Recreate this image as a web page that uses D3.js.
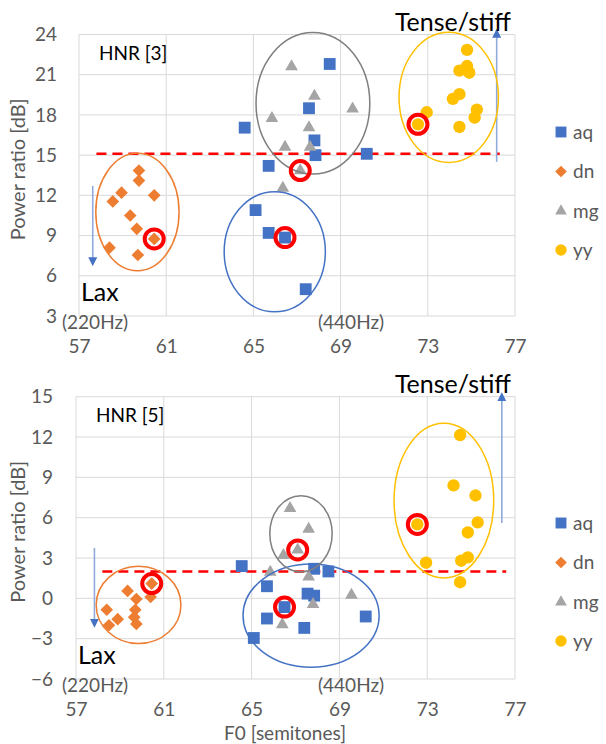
<!DOCTYPE html>
<html>
<head>
<meta charset="utf-8">
<script src="https://cdn.jsdelivr.net/npm/d3@7"></script>
<style>
  body { margin: 0; background: #fff; }
  text { font-family: Lato, "Open Sans", sans-serif; }
</style>
</head>
<body>
<svg id="chart" width="606" height="744"></svg>
<script>
// ---- values ----
var f0Ticks = [57, 61, 65, 69, 73, 77];
var hnr3Ticks = [3, 6, 9, 12, 15, 18, 21, 24];
var hnr5Ticks = [-6, -3, 0, 3, 6, 9, 12, 15];
var seriesNames = ["aq", "dn", "mg", "yy"];

// HNR [3]  (F0 semitones, dB)
var hnr3_aq = [[64.6, 17.05], [68.5, 21.8], [67.55, 18.5], [67.8, 16.1], [67.85, 15.0], [70.2, 15.1],
               [65.7, 14.2], [65.1, 10.9], [65.7, 9.2], [66.45, 8.85], [67.4, 5.0]];
var hnr3_dn = [[59.75, 13.85], [59.75, 13.1], [58.95, 12.2], [58.55, 11.55], [60.45, 12.0],
               [59.35, 10.5], [59.65, 9.5], [60.45, 8.75], [58.4, 8.1], [59.7, 7.55]];
var hnr3_mg = [[66.75, 21.6], [67.8, 19.4], [69.55, 18.45], [65.85, 17.75], [67.55, 17.05],
               [66.45, 15.6], [67.6, 15.6], [67.15, 13.85], [66.35, 12.55]];
var hnr3_yy = [[74.8, 22.85], [74.8, 21.65], [74.45, 21.3], [74.9, 21.15], [74.45, 19.55], [74.15, 19.2],
               [75.25, 18.4], [75.15, 17.8], [72.95, 18.2], [72.55, 17.3], [74.45, 17.1]];
// index of the circled point in each series (aq, dn, mg, yy)
var hnr3Marked = [9, 7, 7, 9];
// rings round each group: [cx, cy, rx, ry] in data units (aq, dn, mg, yy)
var hnr3Rings = [[65.98, 7.79, 2.32, 4.48], [59.68, 10.76, 1.91, 4.38],
                 [67.73, 18.87, 2.61, 5.28], [73.96, 19.31, 2.28, 4.85]];
var hnr3Level = 15.1;
var hnr3LaxArrow = [57.63, 12.7, 7.05];
var hnr3TenseArrow = [76.16, 14.5, 24.1];

// HNR [5]
var hnr5_aq = [[64.55, 2.4], [67.85, 2.2], [68.5, 2.0], [65.7, 0.9], [67.55, 0.35], [67.85, 0.2],
               [66.5, -0.65], [65.7, -1.5], [67.4, -2.2], [70.2, -1.35], [65.1, -2.95]];
var hnr5_dn = [[60.45, 1.1], [60.4, 0.1], [59.35, 0.55], [59.75, -0.05], [59.7, -0.85],
               [58.4, -0.85], [58.9, -1.55], [59.65, -1.4], [58.5, -2.0], [59.75, -1.9]];
var hnr5_mg = [[66.75, 6.7], [67.6, 5.15], [67.1, 3.6], [66.45, 3.2], [65.85, 1.95],
               [67.6, 1.6], [69.55, 0.25], [67.8, -0.45], [66.4, -1.95]];
var hnr5_yy = [[74.5, 12.15], [74.2, 8.4], [75.2, 7.65], [75.3, 5.65], [74.85, 4.9],
               [72.55, 5.5], [72.95, 2.65], [74.85, 3.05], [74.55, 2.8], [74.5, 1.2]];
var hnr5Marked = [6, 0, 2, 5];
var hnr5Rings = [[67.71, -1.28, 3.1, 3.84], [59.85, -0.49, 1.93, 2.87],
                 [67.25, 4.8, 1.42, 2.84], [73.76, 7.27, 2.27, 5.75]];
var hnr5Level = 2.0;
var hnr5LaxArrow = [57.84, 3.75, -1.85];
var hnr5TenseArrow = [76.4, 5.6, 15.0];

var colors = ["#4472c4", "#ed7d31", "#a5a5a5", "#ffc000"];
var ringColors = ["#4472c4", "#ed7d31", "#7f7f7f", "#ffc000"];
var symbols = [d3.symbolSquare, d3.symbolSquare, d3.symbolTriangle, d3.symbolCircle];
var symbolSizes = [140, 80, 70, 120];
var symbolRotate = [0, 45, 0, 0];

var svg = d3.select("#chart");
var defs = svg.append("defs");
defs.append("marker")
    .attr("id", "arrowhead")
    .attr("viewBox", "0 0 10 10")
    .attr("refX", 5).attr("refY", 5)
    .attr("markerWidth", 9).attr("markerHeight", 11)
    .attr("markerUnits", "userSpaceOnUse")
    .attr("orient", "auto")
    .append("path")
    .attr("d", "M0,0 L10,5 L0,10 Z")
    .attr("fill", "#4472c4");

function drawPanel(opt) {
    var x = d3.scaleLinear().domain([57, 77]).range(opt.xRange);
    var y = d3.scaleLinear().domain(d3.extent(opt.yTicks)).range(opt.yRange);
    var g = svg.append("g");

    // grid
    g.selectAll(".hgrid").data(opt.yTicks).enter().append("line")
        .attr("x1", x.range()[0]).attr("x2", x.range()[1])
        .attr("y1", function (d) { return y(d); }).attr("y2", function (d) { return y(d); })
        .attr("stroke", "#d9d9d9").attr("stroke-width", 1);
    g.selectAll(".vgrid").data(f0Ticks).enter().append("line")
        .attr("x1", function (d) { return x(d); }).attr("x2", function (d) { return x(d); })
        .attr("y1", y.range()[0]).attr("y2", y.range()[1])
        .attr("stroke", "#d9d9d9").attr("stroke-width", 1);

    // axes (labels only)
    var yAxis = d3.axisLeft(y).tickValues(opt.yTicks).tickSize(0).tickPadding(opt.yPad);
    var ya = g.append("g").attr("transform", "translate(" + x.range()[0] + ",0)").call(yAxis);
    var xAxis = d3.axisBottom(x).tickValues(f0Ticks).tickSize(0).tickPadding(24);
    var xa = g.append("g").attr("transform", "translate(0," + y.range()[0] + ")").call(xAxis);
    [ya, xa].forEach(function (a) {
        a.select(".domain").remove();
        a.selectAll("text").attr("fill", "#595959").style("font-size", "19px")
            .style("font-family", "Lato, 'Open Sans', sans-serif");
    });

    // threshold line
    g.append("line")
        .attr("x1", x(opt.levelFrom)).attr("x2", x(opt.levelTo))
        .attr("y1", y(opt.level)).attr("y2", y(opt.level))
        .attr("stroke", "#ff0000").attr("stroke-width", 2.5)
        .attr("stroke-dasharray", "10,6");

    // direction arrows
    [opt.laxArrow, opt.tenseArrow].forEach(function (a) {
        g.append("line")
            .attr("x1", x(a[0])).attr("x2", x(a[0]))
            .attr("y1", y(a[1])).attr("y2", y(a[2]))
            .attr("stroke", "#8faadc").attr("stroke-width", 1.6)
            .attr("marker-end", "url(#arrowhead)");
    });

    // points
    opt.series.forEach(function (data, si) {
        var sym = d3.symbol().type(symbols[si]).size(symbolSizes[si]);
        g.selectAll(".pt" + si).data(data).enter().append("path")
            .attr("d", sym)
            .attr("transform", function (d) {
                return "translate(" + x(d[0]) + "," + y(d[1]) + ") rotate(" + symbolRotate[si] + ")";
            })
            .attr("fill", colors[si]);
    });

    // group rings
    opt.rings.forEach(function (r, si) {
        g.append("ellipse")
            .attr("cx", x(r[0])).attr("cy", y(r[1]))
            .attr("rx", x(r[0] + r[2]) - x(r[0]))
            .attr("ry", y(r[1]) - y(r[1] + r[3]))
            .attr("fill", "none").attr("stroke", ringColors[si]).attr("stroke-width", 1.5);
    });

    // marked points
    opt.marked.forEach(function (idx, si) {
        var d = opt.series[si][idx];
        g.append("circle")
            .attr("cx", x(d[0])).attr("cy", y(d[1])).attr("r", 9.5)
            .attr("fill", "none").attr("stroke", "#ff0000").attr("stroke-width", 4);
    });

    // texts in the plot
    g.append("text").attr("x", x.range()[0] + 20).attr("y", y.range()[1] + 25.5)
        .style("font-size", "19px").attr("fill", "#000").text(opt.title);
    g.append("text").attr("x", x.range()[1] - 4).attr("y", y.range()[1] - 4)
        .attr("text-anchor", "end").style("font-size", "25px").attr("fill", "#000").text("Tense/stiff");
    g.append("text").attr("x", x.range()[0] + 2).attr("y", y.range()[0] - 15)
        .style("font-size", "25px").attr("fill", "#000").text("Lax");
    g.append("text").attr("x", 62).attr("y", y.range()[0] + 13)
        .style("font-size", "19px").attr("fill", "#595959").text("(220Hz)");
    g.append("text").attr("x", 318).attr("y", y.range()[0] + 13)
        .style("font-size", "19px").attr("fill", "#595959").text("(440Hz)");

    // y title
    var ym = (y.range()[0] + y.range()[1]) / 2 - 6;
    g.append("text")
        .attr("transform", "translate(25," + ym + ") rotate(-90)")
        .attr("text-anchor", "middle").style("font-size", "20px").attr("fill", "#595959")
        .text("Power ratio [dB]");

    // legend
    seriesNames.forEach(function (name, si) {
        var ly = opt.legendY[si];
        var sym = d3.symbol().type(symbols[si]).size(symbolSizes[si] * 0.85);
        g.append("path").attr("d", sym)
            .attr("transform", "translate(561," + ly + ") rotate(" + symbolRotate[si] + ")")
            .attr("fill", colors[si]);
        g.append("text").attr("x", 573).attr("y", ly).attr("dy", "0.35em")
            .style("font-size", "19px").attr("fill", "#595959").text(name);
    });
}

drawPanel({
    title: "HNR [3]",
    xRange: [79, 515], yRange: [316, 34.5], yTicks: hnr3Ticks, yPad: 22,
    series: [hnr3_aq, hnr3_dn, hnr3_mg, hnr3_yy],
    marked: hnr3Marked, rings: hnr3Rings,
    level: hnr3Level, levelFrom: 57.8, levelTo: 76.3,
    laxArrow: hnr3LaxArrow, tenseArrow: hnr3TenseArrow,
    legendY: [132, 171.5, 211, 250]
});
drawPanel({
    title: "HNR [5]",
    xRange: [76, 515], yRange: [679, 396.7], yTicks: hnr5Ticks, yPad: 23,
    series: [hnr5_aq, hnr5_dn, hnr5_mg, hnr5_yy],
    marked: hnr5Marked, rings: hnr5Rings,
    level: hnr5Level, levelFrom: 58.2, levelTo: 76.6,
    laxArrow: hnr5LaxArrow, tenseArrow: hnr5TenseArrow,
    legendY: [523, 562.5, 602, 641]
});

svg.append("text").attr("x", 285).attr("y", 740).attr("text-anchor", "middle")
    .style("font-size", "19px").attr("fill", "#595959").text("F0 [semitones]");
</script>
</body>
</html>
